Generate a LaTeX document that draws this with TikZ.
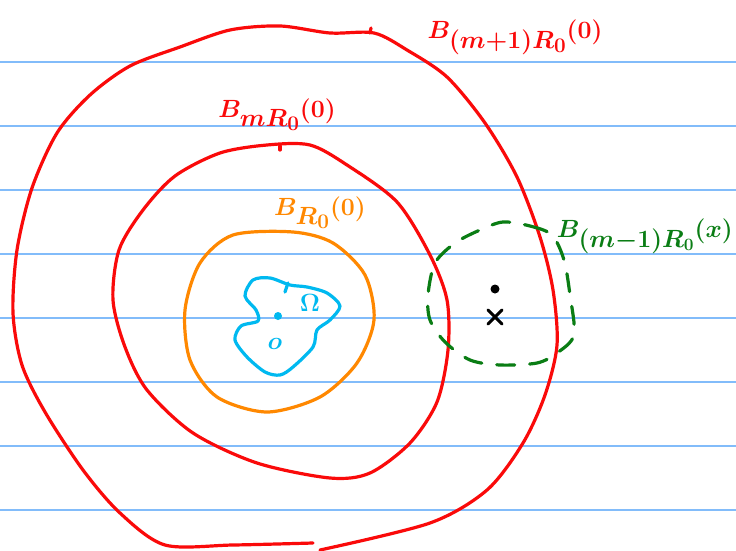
\documentclass[tikz,border=0pt]{standalone}
\usepackage{tikz}
\usetikzlibrary{positioning}
\definecolor{ruleblue}{RGB}{130,188,250}
\definecolor{inkred}{RGB}{250,10,10}
\definecolor{inkorange}{RGB}{255,136,0}
\definecolor{inkcyan}{RGB}{0,185,240}
\definecolor{inkgreen}{RGB}{10,125,20}
\tikzset{
  ruling/.style={draw=ruleblue, line width=1.6pt},
  ink/.style={line width=3.2pt, line cap=round, line join=round},
  ballred/.style={ink, draw=inkred},
  ballorange/.style={ink, draw=inkorange},
  omegaline/.style={ink, draw=inkcyan},
  ballgreen/.style={ink, draw=inkgreen, dash pattern=on 18pt off 15pt},
  lbl/.style={inner sep=0pt, font=\fontsize{40}{46}\selectfont\boldmath},
  smalllbl/.style={lbl, font=\fontsize{27}{32}\selectfont\boldmath},
}

\begin{document}
\begin{tikzpicture}[x=1pt, y=-1pt]
\useasboundingbox[fill=white] (0,0) rectangle (736,551);
% ruled paper
\foreach \yy in {62,126,...,510}
  \draw[ruling] (0,\yy) -- (736,\yy);

% outer ball
\draw[ballred] plot[smooth] coordinates {(320,550) (430,523) (487,490) (523,443) (545,395)
  (557,345) (553,290) (540,237) (517,177) (485,123) (447,77) (407,50) (374,33) (330,33)
  (280,26) (230,30) (180,47) (130,66) (90,95) (57,133) (32,188) (17,250) (13,313) (22,365)
  (45,412) (83,470) (120,513) (165,545) (233,545) (313,543)};
\draw[ballred] (370,33) -- (371,28);

% middle ball
\draw[ballred] plot[smooth cycle] coordinates {(220,153) (267,145) (310,145) (347,165)
  (397,202) (430,255) (447,300) (448,350) (437,402) (410,443) (370,473) (330,478) (257,463)
  (193,433) (147,390) (125,347) (113,300) (119,250) (143,210) (175,176)};
\draw[ballred] (280,146) -- (280,150);

% inner ball
\draw[ballorange] plot[smooth cycle] coordinates {(233,235) (293,232) (333,243) (365,275)
  (374,320) (357,363) (320,397) (267,412) (217,397) (190,360) (185,310) (200,263)};

% the domain
\draw[omegaline] plot[smooth cycle] coordinates {(253,280) (270,278) (290,285)
  (307,287) (327,293) (340,306) (330,320) (317,330) (313,347) (293,367)
  (280,375) (265,372) (247,357) (235,340) (241,326) (258,321) (256,310)
  (245,296)};
\draw[omegaline] (288,283) -- (285,292);
\fill[inkcyan] (278,316) circle (4pt);
\node[smalllbl, inkcyan] (omega) at (310,303) {$\Omega$};
\node[smalllbl, inkcyan] (origin) at (275,344) {$o$};

% ball around x
\draw[ballgreen] plot[smooth cycle] coordinates {(503,222) (530,226) (552,235) (564,260)
  (570,295) (574,335) (557,353) (537,363) (500,365) (470,360) (445,342)
  (430,320) (428,295) (435,263) (455,243) (480,230)};
\fill (495,289) circle (4.5pt);
\draw[ink, line width=3pt] (488,310) -- (502,324) (502,310) -- (488,324);

% labels
\node[lbl, inkred] (bigball) at (515,37) {$B_{(m+1)R_0}(0)$};
\node[lbl, inkred] (midball) at (277,115) {$B_{mR_0}(0)$};
\node[lbl, inkorange] (smallball) at (320,213) {$B_{R_0}(0)$};
\node[lbl, inkgreen, anchor=east, font=\fontsize{33}{38}\selectfont\boldmath] (xball) at (733,236) {$B_{(m-1)R_0}(x)$};
\end{tikzpicture}
\end{document}
